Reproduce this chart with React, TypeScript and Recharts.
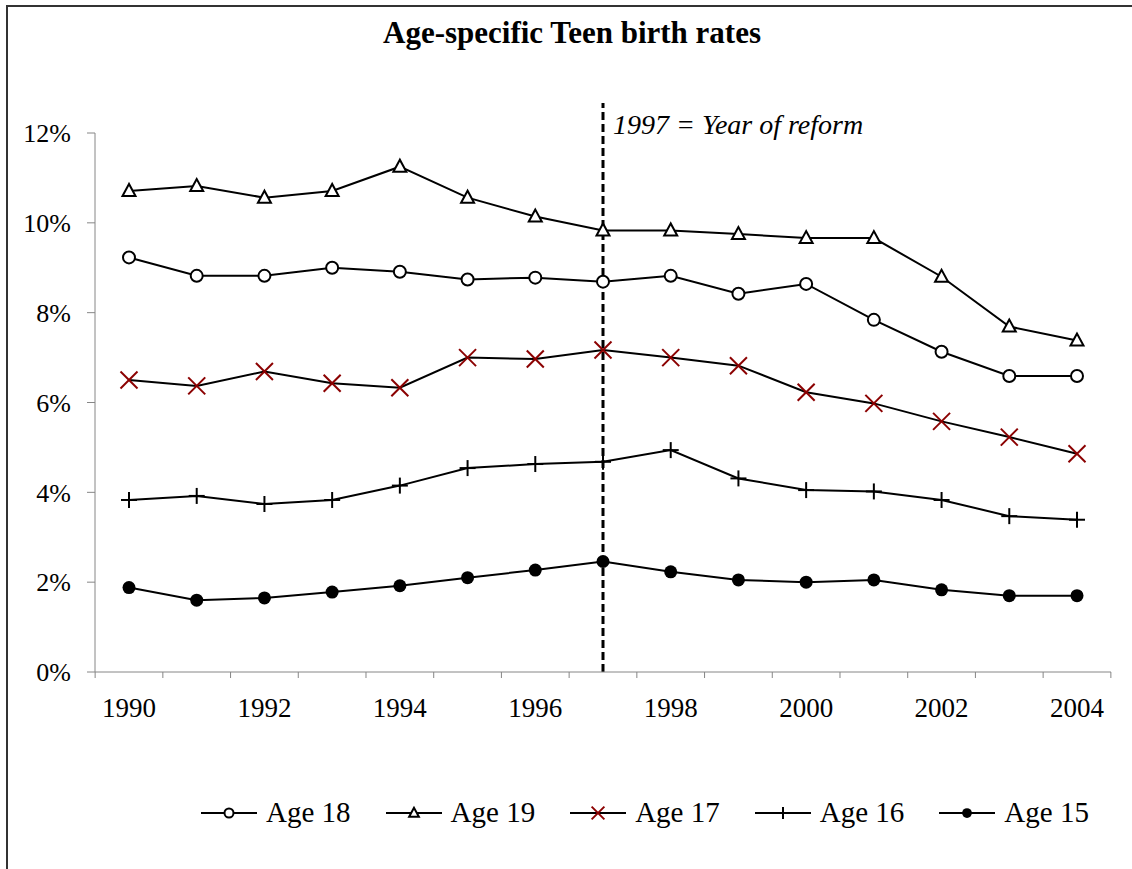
import React from "react";
import { LineChart, Line, XAxis, YAxis, ReferenceLine } from "recharts";

const years = ["1990", "1991", "1992", "1993", "1994", "1995", "1996", "1997", "1998", "1999", "2000", "2001", "2002", "2003", "2004"];
const age18 = [9.23, 8.82, 8.82, 9.0, 8.91, 8.74, 8.78, 8.69, 8.82, 8.42, 8.64, 7.84, 7.13, 6.59, 6.59];
const age19 = [10.71, 10.82, 10.56, 10.71, 11.25, 10.56, 10.14, 9.83, 9.83, 9.75, 9.66, 9.66, 8.8, 7.69, 7.38];
const age17 = [6.5, 6.37, 6.69, 6.43, 6.33, 7.0, 6.97, 7.17, 7.0, 6.82, 6.23, 5.98, 5.58, 5.23, 4.86];
const age16 = [3.83, 3.92, 3.74, 3.83, 4.15, 4.54, 4.63, 4.68, 4.94, 4.31, 4.05, 4.02, 3.83, 3.47, 3.39];
const age15 = [1.88, 1.6, 1.65, 1.78, 1.92, 2.1, 2.27, 2.46, 2.23, 2.05, 2.0, 2.05, 1.83, 1.7, 1.7];
const yTicks = [0, 2, 4, 6, 8, 10, 12];
const reformYear = "1997";

const data = years.map((year, i) => ({
  year,
  a18: age18[i],
  a19: age19[i],
  a17: age17[i],
  a16: age16[i],
  a15: age15[i],
}));

const SERIF = "Liberation Serif, Times New Roman, serif";
const AXIS_GREY = "#868686";
const DARK_RED = "#8b0000";

type Shape = "circle" | "triangle" | "x" | "plus" | "dot";

function Marker({ shape, cx, cy, s = 1 }: { shape: Shape; cx: number; cy: number; s?: number }) {
  if (shape === "circle")
    return <circle cx={cx} cy={cy} r={6 * s} fill="#fff" stroke="#000" strokeWidth={2} />;
  if (shape === "triangle")
    return (
      <polygon
        points={`${cx},${cy - 7 * s} ${cx - 6.5 * s},${cy + 5 * s} ${cx + 6.5 * s},${cy + 5 * s}`}
        fill="#fff"
        stroke="#000"
        strokeWidth={2}
      />
    );
  if (shape === "x") {
    const d = 8.5 * s;
    return (
      <g stroke={DARK_RED} strokeWidth={2}>
        <line x1={cx - d} y1={cy - d} x2={cx + d} y2={cy + d} />
        <line x1={cx - d} y1={cy + d} x2={cx + d} y2={cy - d} />
      </g>
    );
  }
  if (shape === "plus") {
    const d = 8 * s;
    return (
      <g stroke="#000" strokeWidth={2}>
        <line x1={cx - d} y1={cy} x2={cx + d} y2={cy} />
        <line x1={cx} y1={cy - d} x2={cx} y2={cy + d} />
      </g>
    );
  }
  return <circle cx={cx} cy={cy} r={6.5 * s} fill="#000" />;
}

const dotFor = (shape: Shape) => (props: any) => (
  <g key={`${shape}-${props.index}`}>
    <Marker shape={shape} cx={props.cx} cy={props.cy} />
  </g>
);

const series: { key: string; name: string; shape: Shape }[] = [
  { key: "a18", name: "Age 18", shape: "circle" },
  { key: "a19", name: "Age 19", shape: "triangle" },
  { key: "a17", name: "Age 17", shape: "x" },
  { key: "a16", name: "Age 16", shape: "plus" },
  { key: "a15", name: "Age 15", shape: "dot" },
];

function XTick(props: any) {
  const { x, y, payload, index, width, visibleTicksCount } = props;
  const step = width / visibleTicksCount;
  const ay = y - 26;
  return (
    <g>
      <line x1={x - step / 2} y1={ay} x2={x - step / 2} y2={ay + 6} stroke={AXIS_GREY} />
      {index === visibleTicksCount - 1 && (
        <line x1={x + step / 2} y1={ay} x2={x + step / 2} y2={ay + 6} stroke={AXIS_GREY} />
      )}
      {index % 2 === 0 && (
        <text x={x} y={y} dy="0.71em" textAnchor="middle" style={{ fontFamily: SERIF, fontSize: 27 }} fill="#000">
          {payload.value}
        </text>
      )}
    </g>
  );
}

function YTick(props: any) {
  const { x, y, payload } = props;
  return (
    <text x={x} y={y} dy="0.355em" textAnchor="end" style={{ fontFamily: SERIF, fontSize: 26 }} fill="#000">
      {`${payload.value}%`}
    </text>
  );
}

function ReformLabel(props: any) {
  const vb = props.viewBox || {};
  return (
    <text
      x={vb.x + 10}
      y={vb.y + 31}
      style={{ fontFamily: SERIF, fontStyle: "italic", fontSize: 28 }}
      fill="#000"
    >
      1997 = Year of reform
    </text>
  );
}

export default function App() {
  return (
    <div
      style={{
        position: "absolute",
        left: 0,
        top: 0,
        width: 1132,
        height: 869,
        background: "#fff",
        overflow: "hidden",
        fontFamily: SERIF,
      }}
    >
      <div style={{ position: "absolute", left: 6, top: 5, width: 1126, height: 2, background: "#333" }} />
      <div style={{ position: "absolute", left: 6, top: 5, width: 2, height: 864, background: "#333" }} />
      <div
        style={{
          position: "absolute",
          left: 0,
          width: 1144,
          top: 15,
          textAlign: "center",
          fontWeight: "bold",
          fontSize: 31,
          lineHeight: "36px",
        }}
      >
        Age-specific Teen birth rates
      </div>
      <div style={{ position: "absolute", left: 0, top: 0 }}>
        <LineChart width={1132} height={869} data={data} margin={{ top: 133, right: 21, left: 0, bottom: 137 }}>
          <XAxis
            dataKey="year"
            interval={0}
            padding={{ left: 34, right: 34 }}
            height={60}
            tickSize={6}
            tickMargin={20}
            tickLine={false}
            axisLine={{ stroke: AXIS_GREY }}
            tick={<XTick />}
          />
          <YAxis
            width={95}
            domain={[0, 12]}
            ticks={yTicks}
            interval={0}
            tickSize={8}
            tickMargin={16}
            axisLine={{ stroke: AXIS_GREY }}
            tickLine={{ stroke: AXIS_GREY }}
            tick={<YTick />}
          />
          <ReferenceLine
            segment={[
              { x: reformYear, y: 0 },
              { x: reformYear, y: 12.67 },
            ]}
            ifOverflow="visible"
            stroke="#000"
            strokeWidth={3}
            strokeDasharray="8 4"
            label={<ReformLabel />}
          />
          {series.map((s) => (
            <Line
              key={s.key}
              dataKey={s.key}
              name={s.name}
              stroke="#000"
              strokeWidth={2}
              dot={dotFor(s.shape)}
              activeDot={false}
              isAnimationActive={false}
            />
          ))}
        </LineChart>
      </div>
      <div
        style={{
          position: "absolute",
          left: 201,
          top: 796,
          display: "flex",
          alignItems: "center",
          gap: 35,
          fontSize: 29,
        }}
      >
        {series.map((s) => (
          <div key={s.key} style={{ display: "flex", alignItems: "center" }}>
            <svg width={56} height={24} style={{ marginRight: 9 }}>
              <line x1={0} y1={12} x2={56} y2={12} stroke="#000" strokeWidth={2} />
              <Marker shape={s.shape} cx={28} cy={12} s={0.75} />
            </svg>
            <span>{s.name}</span>
          </div>
        ))}
      </div>
    </div>
  );
}
